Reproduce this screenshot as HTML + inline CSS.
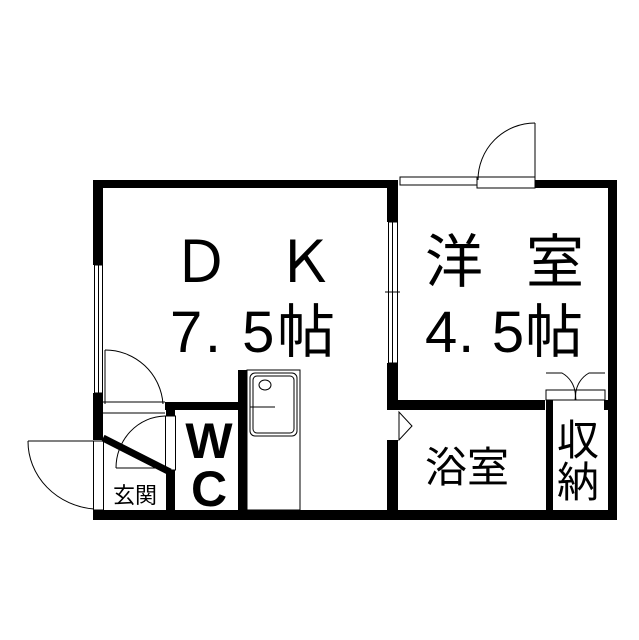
<!DOCTYPE html><html><head><style>body{margin:0;background:#fff}svg{display:block}text{font-family:"Liberation Sans","Noto Sans CJK JP",sans-serif;fill:#000}</style></head><body>
<svg width="639" height="640" viewBox="0 0 639 640">
<g fill="#000">
<rect x="93" y="180" width="300" height="8"/>
<rect x="535" y="180" width="82" height="8"/>
<rect x="93" y="180" width="10" height="85"/>
<rect x="93" y="393" width="10" height="47"/>
<rect x="93" y="510" width="524" height="10"/>
<rect x="608" y="180" width="9" height="340"/>
<rect x="387" y="180" width="11" height="42"/>
<rect x="387" y="363" width="11" height="47"/>
<rect x="387" y="440" width="11" height="80"/>
<rect x="387" y="400" width="158" height="10"/>
<rect x="604" y="400" width="13" height="10"/>
<rect x="546" y="400" width="7" height="120"/>
<rect x="165" y="402" width="82" height="8"/>
<rect x="166" y="402" width="9" height="14"/>
<rect x="166" y="470" width="9" height="50"/>
<rect x="238" y="370" width="9" height="150"/>
</g>
<g fill="none" stroke="#000" stroke-width="1">
<rect x="94.5" y="265" width="8" height="128"/><line x1="98.5" y1="265" x2="98.5" y2="393"/>
<rect x="388.5" y="222" width="9" height="141"/><line x1="392.5" y1="222" x2="392.5" y2="363"/><line x1="385" y1="292" x2="400" y2="292"/>
<line x1="103" y1="402" x2="165" y2="402"/><line x1="103" y1="413" x2="165" y2="413"/>
<path d="M105 350 A58 58 0 0 1 163 404"/><line x1="105" y1="350" x2="105" y2="404"/>
<rect x="165.5" y="416" width="10" height="54"/>
<path d="M116 468 A50 52 0 0 1 165 416"/><line x1="116" y1="468" x2="165" y2="468"/>
<rect x="93.5" y="441" width="10" height="69"/>
<path d="M28 441 A72 68 0 0 0 94 509"/><line x1="28" y1="441" x2="94" y2="441"/>
<rect x="400" y="177" width="77" height="8"/><rect x="477" y="177" width="58" height="11"/>
<path d="M478 180 A57 57 0 0 1 535 123"/><line x1="535" y1="123" x2="535" y2="188"/>
<rect x="546" y="390" width="59" height="10"/>
<path d="M546 373 L562 373 A26 26 0 0 1 575 400"/><path d="M605 373 L589 373 A26 26 0 0 0 576 400"/>
<rect x="247" y="370" width="53" height="140"/>
<rect x="250" y="373" width="47" height="63" rx="5"/><rect x="253" y="376" width="41" height="57" rx="4"/>
<ellipse cx="265" cy="385" rx="6" ry="5"/><line x1="250" y1="407" x2="275" y2="407"/>
<path d="M399 412 L399 440 L412 426 Z"/>
</g>
<line x1="103" y1="438" x2="170" y2="472" stroke="#000" stroke-width="7"/>
<g font-size="58" text-anchor="middle">
<text x="201" y="282">Ｄ</text><text x="305" y="282">Ｋ</text>
<text x="170" y="352" text-anchor="start" textLength="165" lengthAdjust="spacing">7. 5帖</text>
<text x="454" y="282">洋</text><text x="555" y="282">室</text>
<text x="425" y="352" text-anchor="start" textLength="158" lengthAdjust="spacing">4. 5帖</text>
</g>
<g font-size="50" text-anchor="middle" font-weight="bold"><text x="209" y="458">W</text><text x="209" y="506">C</text></g>
<g font-size="42" text-anchor="middle"><text x="467" y="482">浴室</text><text x="578" y="455">収</text><text x="578" y="497">納</text></g>
<text x="135" y="503" font-size="22" text-anchor="middle">玄関</text>
</svg></body></html>
